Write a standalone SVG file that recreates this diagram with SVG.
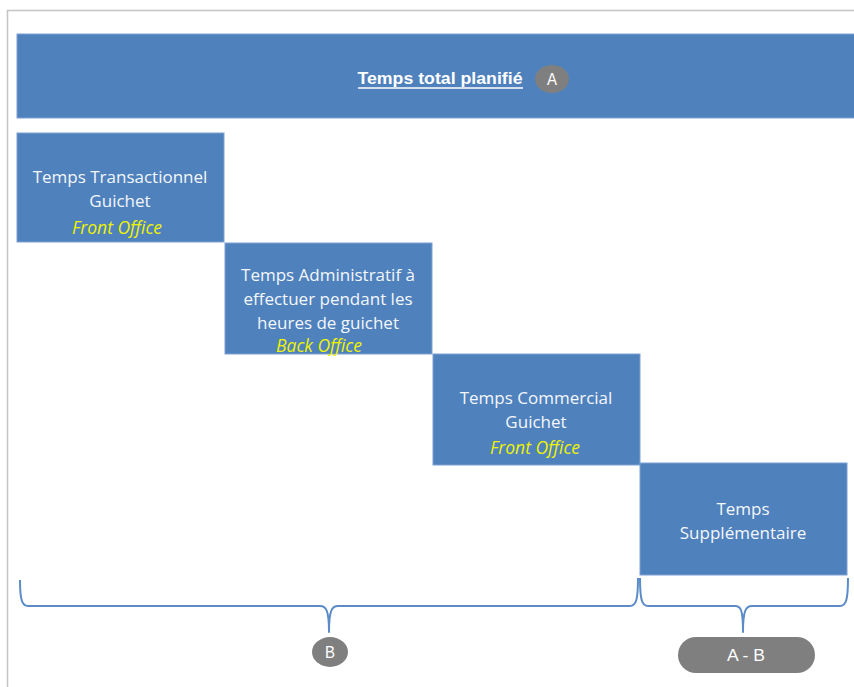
<svg xmlns="http://www.w3.org/2000/svg" width="854" height="687" viewBox="0 0 854 687">
<style>
.box{fill:#4F81BD;stroke:#7EA1D3;stroke-width:1}
.t{font-family:"Open Sans","Liberation Sans",Arial,sans-serif;font-size:17px;fill:#F4F7FB;text-anchor:middle}
.y{font-family:"Open Sans","Liberation Sans",Arial,sans-serif;font-size:17.5px;font-style:italic;fill:#EEF200;text-anchor:middle}
.c{font-family:"Liberation Sans Narrow","Liberation Sans",Arial,sans-serif;fill:#FFFFFF;text-anchor:middle}
.badge{fill:#7F7F7F}
.brace{fill:none;stroke:#5B8CC8;stroke-width:2;stroke-linejoin:round}
</style>
<rect width="854" height="687" fill="#FFFFFF"/>
<path d="M7.5,687 L7.5,10.5 L854,10.5" fill="none" stroke="#C4C4C4" stroke-width="1.5"/>
<g id="total">
<rect class="box" x="17" y="34" width="845" height="84"/>
<text class="c" x="440" y="84" font-size="17" font-weight="bold" textLength="165" lengthAdjust="spacingAndGlyphs">Temps total planifié</text>
<line x1="358" y1="88" x2="523" y2="88" stroke="#FFFFFF" stroke-width="1.5"/>
<ellipse class="badge" cx="552" cy="79" rx="17" ry="14"/>
<text class="c" x="552" y="85" font-size="16" textLength="10" lengthAdjust="spacingAndGlyphs">A</text>
</g>
<g id="transactionnel">
<rect class="box" x="17" y="133" width="207" height="109"/>
<text class="t" x="120" y="183">Temps Transactionnel</text>
<text class="t" x="120" y="207">Guichet</text>
<text class="y" x="117" y="234">Front Office</text>
</g>
<g id="administratif">
<rect class="box" x="225" y="243" width="207" height="111"/>
<text class="t" x="328" y="281">Temps Administratif à</text>
<text class="t" x="328" y="305">effectuer pendant les</text>
<text class="t" x="328" y="329">heures de guichet</text>
<text class="y" x="319" y="352">Back Office</text>
</g>
<g id="commercial">
<rect class="box" x="433" y="354" width="207" height="111"/>
<text class="t" x="536" y="404">Temps Commercial</text>
<text class="t" x="536" y="428">Guichet</text>
<text class="y" x="535" y="454">Front Office</text>
</g>
<g id="supplementaire">
<rect class="box" x="640" y="463" width="207" height="112"/>
<text class="t" x="743" y="515">Temps</text>
<text class="t" x="743" y="539">Supplémentaire</text>
</g>
<g id="connectors">
<path class="brace" d="M20,580 C20,600 22,606 28,606 L320,606 C326,606 329,610 329,632 C329,610 332,606 338,606 L630,606 C636,606 638,600 638,578"/>
<path class="brace" d="M640,578 C640,600 642,606 648,606 L735,606 C741,606 743,610 743,632 C743,610 746,606 752,606 L840,606 C846,606 848,600 848,578"/>
</g>
<g id="B">
<ellipse class="badge" cx="330" cy="652" rx="18" ry="15"/>
<text class="c" x="330" y="658" font-size="16" textLength="10" lengthAdjust="spacingAndGlyphs">B</text>
</g>
<g id="AminusB">
<rect class="badge" x="678" y="637" width="137" height="36" rx="18" ry="18"/>
<text class="c" x="746" y="661" font-size="16" textLength="38" lengthAdjust="spacingAndGlyphs">A - B</text>
</g>
</svg>
